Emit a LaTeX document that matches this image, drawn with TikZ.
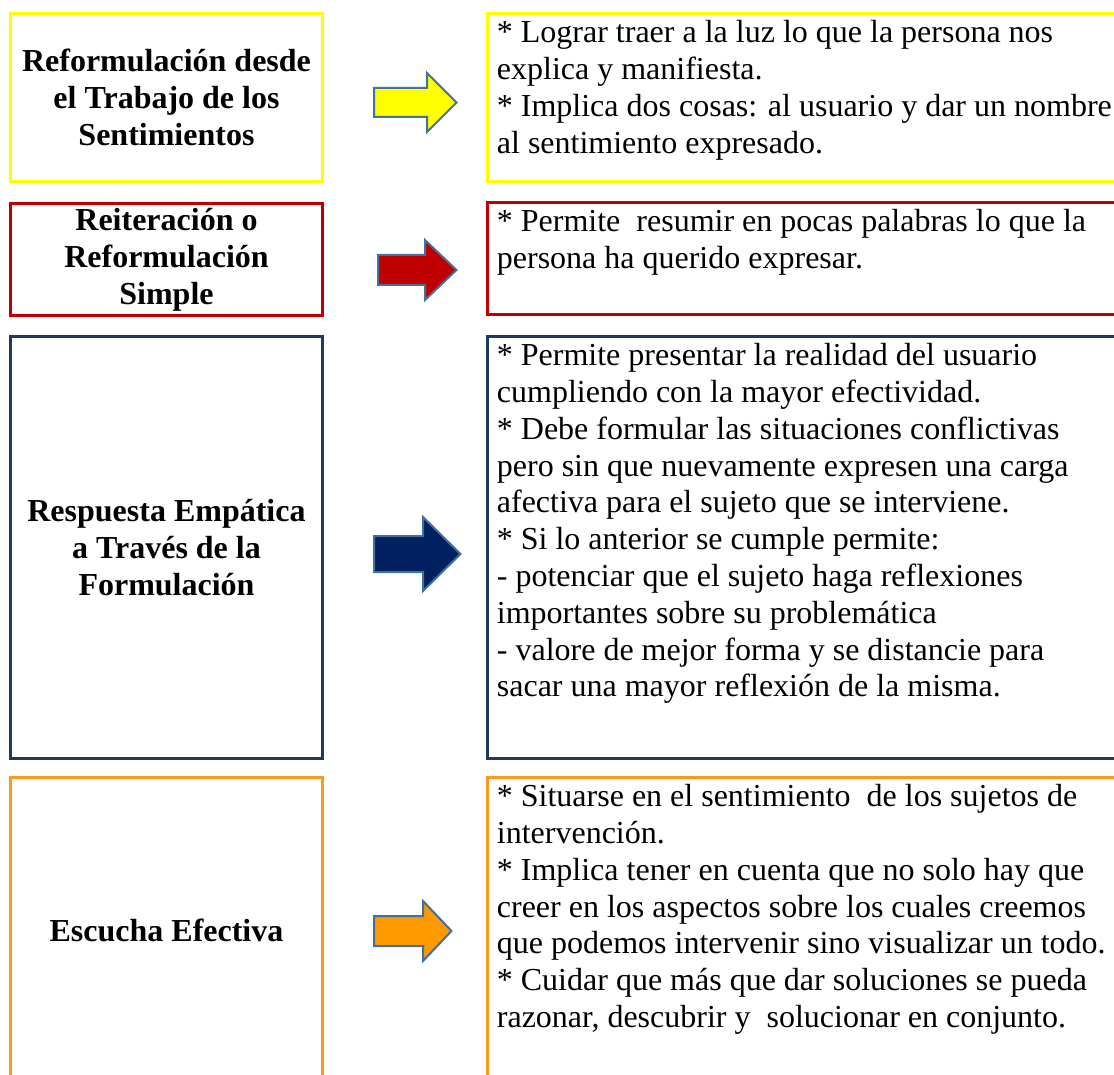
\documentclass[tikz,border=0pt]{standalone}
\usepackage{fontspec}
\setmainfont{Liberation Serif}
\definecolor{yelline}{HTML}{FFFF00}
\definecolor{redline}{HTML}{C00000}
\definecolor{navyline}{HTML}{1F3864}
\definecolor{navyfill}{HTML}{002060}
\definecolor{orangeline}{HTML}{F99B1C}
\definecolor{orangefill}{HTML}{FF9900}
\definecolor{arrowline}{HTML}{41719C}
\tikzset{
  lbox/.style={draw, line width=1.5pt, minimum width=156pt, inner sep=0pt, outer sep=0pt,
    align=center, font=\fontsize{16}{18.4}\selectfont\bfseries},
  rbox/.style={draw, line width=1.5pt, minimum width=340pt, inner sep=0pt, outer sep=0pt, anchor=north west},
  desc/.style={anchor=north west, align=left, inner sep=0pt, font=\fontsize{16}{18.4}\selectfont},
  blockarrow/.style={draw=arrowline, line width=1pt, line join=miter}
}
\begin{document}
\begin{tikzpicture}[x=0.5pt, y=-0.5pt]
	\useasboundingbox (0,0) rectangle (1114,1075);
	\clip (0,0) rectangle (1114,1075);
	% left column
	\node[lbox, draw=yelline, minimum height=84pt] (crit1) at (166.5,97.5) {Reformulación desde\\el Trabajo de los\\Sentimientos};
	\node[lbox, draw=redline, minimum height=56pt] (crit2) at (166.5,259.5) {Reiteración o\\Reformulación\\Simple};
	\node[lbox, draw=navyline, minimum height=211pt] (crit3) at (166.5,547.5) {Respuesta Empática\\a Través de la\\Formulación};
	\node[lbox, draw=orangeline, minimum height=152.5pt] (crit4) at (166.5,930) {Escucha Efectiva};
	% right column
	\node[rbox, draw=yelline, minimum height=84pt] (info1) at (487.5,13.5) {};
	\node[rbox, draw=redline, minimum height=56pt] (info2) at (487.5,202.5) {};
	\node[rbox, draw=navyline, minimum height=211pt] (info3) at (487.5,336.5) {};
	\node[rbox, draw=orangeline, minimum height=152.5pt] (info4) at (487.5,777.5) {};
	\node[desc] (txt1) at ([shift={(4.5pt,-3.25pt)}]info1.north west) {* Lograr traer a la luz lo que la persona nos\\
		explica y manifiesta.\\
		* Implica dos cosas: al usuario y dar un nombre\\
		al sentimiento expresado.};
	\node[desc] (txt2) at ([shift={(4.5pt,-3.25pt)}]info2.north west) {* Permite~ resumir en pocas palabras lo que la\\
		persona ha querido expresar.};
	\node[desc] (txt3) at ([shift={(4.5pt,-3.25pt)}]info3.north west) {* Permite presentar la realidad del usuario\\
		cumpliendo con la mayor efectividad.\\
		* Debe formular las situaciones conflictivas\\
		pero sin que nuevamente expresen una carga\\
		afectiva para el sujeto que se interviene.\\
		* Si lo anterior se cumple permite:\\
		- potenciar que el sujeto haga reflexiones\\
		importantes sobre su problemática\\
		- valore de mejor forma y se distancie para\\
		sacar una mayor reflexión de la misma.};
	\node[desc] (txt4) at ([shift={(4.5pt,-3.25pt)}]info4.north west) {* Situarse en el sentimiento~ de los sujetos de\\
		intervención.\\
		* Implica tener en cuenta que no solo hay que\\
		creer en los aspectos sobre los cuales creemos\\
		que podemos intervenir sino visualizar un todo.\\
		* Cuidar que más que dar soluciones se pueda\\
		razonar, descubrir y~ solucionar en conjunto.};
	% block arrows
	\foreach \fillcol/\xa/\xb/\xt/\yc/\sh/\hh in {yelline/374/427/456.5/102.5/14.5/29.5,
			redline/378/425/456.5/270/15/30,
			navyfill/374/423/460.5/554/18/37,
			orangefill/374/423/451.5/931/15/30}
		\draw[blockarrow, fill=\fillcol] (\xa,{\yc-\sh}) -- (\xb,{\yc-\sh}) -- (\xb,{\yc-\hh}) -- (\xt,\yc)
			-- (\xb,{\yc+\hh}) -- (\xb,{\yc+\sh}) -- (\xa,{\yc+\sh}) -- cycle;
\end{tikzpicture}
\end{document}
